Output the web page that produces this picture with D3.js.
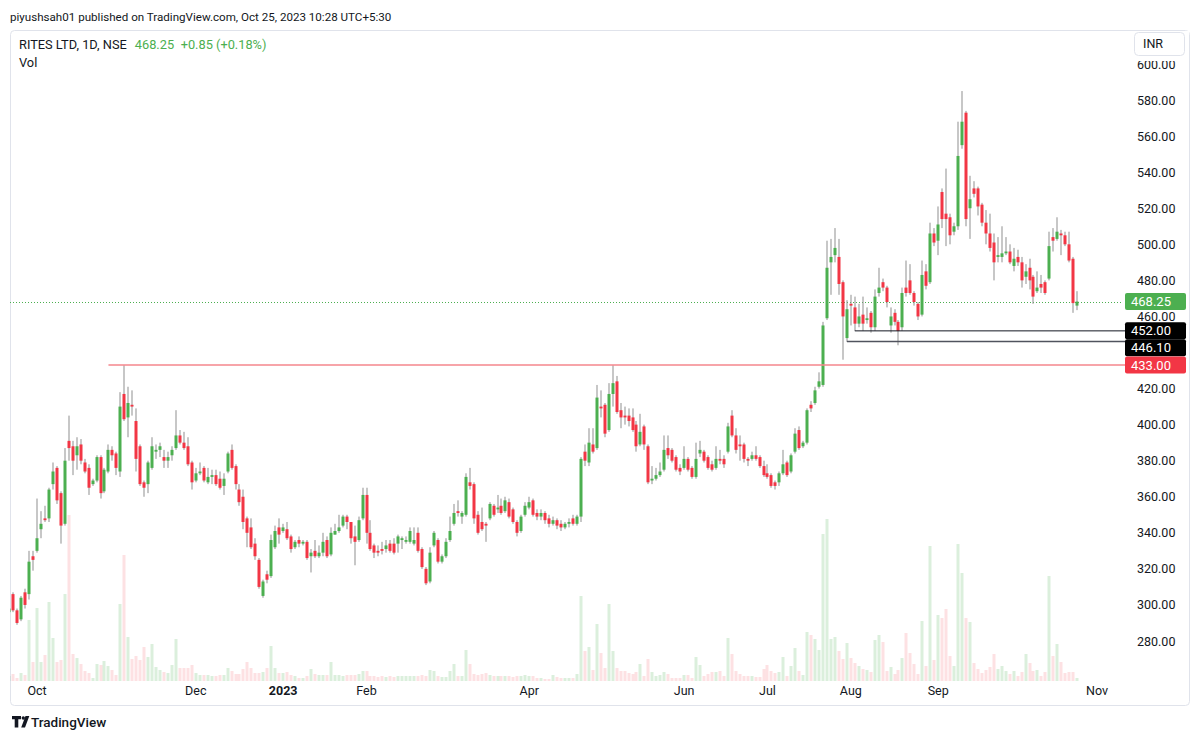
<!DOCTYPE html>
<html>
<head>
<meta charset="utf-8">
<script src="https://cdn.jsdelivr.net/npm/d3@7"></script>
<style>
  body { margin: 0; background: #fff; }
  svg { font-family: Roboto, Inter, "Noto Sans", sans-serif; }
</style>
</head>
<body>
<div id="chart"></div>
<script>
  // NSE holidays in the range (weekdays with no bar)
  const holidays = ['2022-10-05', '2022-10-26', '2022-11-08', '2023-01-26', '2023-03-07',
    '2023-03-30', '2023-04-04', '2023-04-07', '2023-04-14', '2023-05-01', '2023-06-29',
    '2023-08-15', '2023-09-19', '2023-10-02', '2023-10-24']

  // daily bars [open, high, low, close], 22 Sep 2022 .. 25 Oct 2023
  const candles = [
    [296,299,295,298],[306,307,296,297],[297,298,289,290],[292,305,291,304],[307,309,298,300],
    [306,330,303,324],[327,330,319,325],[330,359,329,337],[342,352,337,345],[348,355,346,347],
    [348,365,346,364],[367,379,364,374],[376,377,356,358],[362,363,334,344],[345,387,344,380],
    [391,405,380,387],[388,391,372,380],[383,393,375,388],[389,392,378,380],[379,381,373,374],
    [376,378,361,365],[367,370,366,369],[369,383,368,382],[382,383,359,362],[363,376,362,375],
    [374,389,373,386],[386,388,380,383],[384,385,372,376],[374,418,371,410],[417,433,402,403],
    [404,421,393,412],[411,419,405,410],[402,409,374,381],[388,389,366,367],[368,369,360,365],
    [367,380,362,379],[376,393,375,388],[385,389,381,386],[386,390,382,388],[382,386,376,380],
    [380,385,376,382],[383,388,380,386],[387,408,386,394],[394,397,389,390],[390,396,386,387],
    [388,393,377,378],[379,380,364,368],[369,376,368,373],[373,379,372,374],[376,377,368,369],
    [368,376,367,371],[371,375,367,372],[372,375,366,367],[370,374,364,365],[366,373,361,370],
    [374,385,373,384],[386,389,375,376],[377,378,364,367],[364,367,355,357],[360,364,342,346],
    [348,349,332,340],[343,348,331,332],[334,337,325,327],[325,326,309,310],[305,314,304,313],
    [317,319,312,314],[316,339,315,336],[332,344,331,341],[343,348,334,339],[341,345,340,343],
    [342,346,336,337],[338,339,329,331],[332,336,331,335],[336,338,332,334],[334,336,333,335],
    [335,336,325,326],[327,331,318,329],[330,336,326,327],[327,333,326,329],[329,340,327,335],
    [336,338,326,327],[328,343,327,340],[339,345,339,341],[341,350,340,343],[344,350,343,349],
    [349,350,342,346],[346,346,334,337],[338,344,322,335],[336,349,335,347],[348,365,347,361],
    [361,365,334,340],[340,347,330,331],[333,334,326,329],[330,333,327,329],[331,335,328,330],
    [331,336,329,333],[334,336,329,330],[334,337,328,329],[334,339,329,338],[336,338,331,337],
    [335,338,334,336],[335,343,334,341],[334,343,333,336],[340,343,329,330],[331,332,320,321],
    [320,321,311,312],[313,332,312,329],[333,341,332,340],[336,337,323,324],[324,328,323,327],
    [327,337,326,335],[336,349,335,341],[345,356,344,351],[352,358,349,351],[349,352,345,351],
    [350,373,349,371],[368,376,364,366],[367,368,345,348],[350,352,339,340],[346,354,341,342],
    [345,346,335,344],[348,357,347,356],[355,356,349,350],[353,361,351,354],[355,359,350,351],
    [352,360,351,358],[357,359,348,349],[353,354,345,346],[346,347,338,340],[341,350,340,349],
    [350,357,349,355],[354,360,353,357],[358,359,349,350],[351,353,347,349],[349,353,347,351],
    [351,352,345,347],[348,350,343,345],[345,349,344,347],[347,348,342,344],[345,347,341,343],
    [343,346,342,345],[345,348,343,346],[348,350,344,345],[345,350,344,349],[349,382,346,381],
    [385,389,377,380],[379,398,377,390],[389,398,384,385],[387,422,386,415],[410,419,404,409],
    [411,412,393,395],[397,423,396,417],[417,433,410,423],[424,427,406,407],[408,412,398,404],
    [405,410,400,404],[405,409,399,402],[404,409,396,397],[400,402,385,388],[389,406,388,396],
    [399,400,386,389],[388,389,367,368],[369,377,367,370],[370,376,369,372],[372,379,371,374],
    [375,394,374,386],[387,394,381,383],[386,387,379,380],[382,383,374,375],[376,378,372,374],
    [376,388,375,381],[381,382,374,375],[376,377,370,371],[371,390,370,381],[384,391,382,386],
    [385,386,379,380],[382,383,375,376],[378,380,374,375],[376,388,375,381],[381,386,378,380],
    [381,383,376,378],[385,401,384,399],[405,408,393,394],[394,398,384,386],[389,394,380,388],
    [389,390,379,381],[381,382,377,380],[381,385,380,383],[383,388,380,381],[382,383,376,377],
    [377,380,371,372],[373,378,370,371],[372,373,365,366],[368,369,364,366],[368,374,366,373],
    [373,386,372,378],[379,380,371,372],[374,384,373,383],[385,398,384,395],[397,399,386,387],
    [388,391,387,390],[390,409,389,408],[411,413,407,409],[412,421,411,419],[421,429,420,424],
    [422,457,421,455],[459,502,458,487],[490,503,472,493],[494,509,490,498],[493,503,472,478],
    [479,480,436,460],[448,469,446,464],[467,472,455,466],[465,471,452,456],[456,467,454,460],
    [461,471,452,456],[458,465,456,459],[462,463,451,454],[454,475,452,471],[473,487,471,476],
    [479,481,474,476],[476,477,465,468],[455,465,451,460],[462,464,455,457],[457,458,444,452],
    [454,476,452,473],[476,491,471,473],[480,489,472,473],[473,474,466,468],[467,468,458,460],
    [461,491,460,483],[485,489,475,477],[479,512,478,506],[506,509,499,501],[502,521,494,511],
    [529,531,509,514],[517,542,499,514],[515,517,500,505],[507,512,505,510],[510,568,508,549],
    [555,585,553,568],[573,574,510,514],[520,538,503,525],[531,535,526,528],[531,532,516,521],
    [522,523,510,512],[512,519,500,506],[506,517,496,498],[501,506,480,490],[493,504,490,494],
    [493,510,490,495],[495,504,494,496],[496,500,489,490],[488,498,485,492],[493,497,488,490],
    [490,493,476,480],[482,489,478,485],[487,492,475,480],[482,483,467,471],[474,485,473,476],
    [478,483,473,476],[479,480,472,473],[481,507,480,499],[504,509,496,502],[503,515,502,507],
    [506,508,494,505],[505,507,499,500],[500,507,490,491],[492,493,462,467.4],[466,474,463.5,468.25]
  ]

  // volume, lakh shares
  const volumes = [
    2.5,3.5,1.5,4,3,30.5,9.5,36.5,9.5,13,
    39.5,21.5,9.5,10.5,43.5,83,13.5,11.5,8.5,5,
    4,1.5,8.5,8,10,7.5,5.5,3,38.5,63,
    22,11,12.5,10.5,17,12,18.5,7,5.5,4.5,
    4,8,21,6.5,6.5,6.5,8,4,3,3,
    3,2.5,2.5,3,3,6.5,5,3.5,3.5,6,
    9.5,6.5,4,4,4.5,6.5,17.5,6.5,4,4,
    4.5,3,2.5,1.5,1.5,2.5,6,3.5,3,3,
    3,9.5,3,3,2.5,3,3,3,3.5,5,
    5,2.5,2.5,2,2.5,2,2.5,2,2.5,2.5,
    2.5,2.5,2.5,2.5,3,2.5,5.5,5,2.5,2,
    2,5,8.5,2.5,2.5,15.5,8.5,3.5,3,3.5,
    4,3,2.5,2.5,2.5,2.5,2.5,2,2.5,2.5,
    3,2.5,2.5,1.5,1.5,1,1,3,2,1.5,
    1.5,1.5,1.5,3.5,42.5,15,17,5.5,28.5,14,
    6.5,38.5,15,6.5,5,5,4,3.5,4.5,8.5,
    2.5,11,4.5,2.5,3,4.5,3.5,1.5,1.5,1.5,
    3,3,1.5,12,8,2.5,3.5,4.5,4.5,5,
    2.5,21.5,13.5,5,3.5,2.5,2.5,2.5,2,2,
    6,8,5,4,4.5,12,2.5,7.5,16.5,5,
    3,24.5,23,21,15.5,73.5,81,21,22,15,
    11,19,11.5,9,7.5,6,5.5,4.5,20.5,23,
    19.5,5,7,3.5,5.5,11.5,24,14,8.5,3.5,
    30,7.5,67.5,10.5,33,31.5,36,12.5,7.5,68.5,
    54,31.5,29.5,9,6,4,5.5,7,13.5,6,
    7.5,5,3.5,5,2.5,4.5,13.5,9,5,5.5,
    2.5,4.5,52.5,12.5,18.5,9.5,4,4.5,4.5,1.5
  ]

  const priceTicks = [280, 300, 320, 340, 360, 380, 400, 420, 440, 460, 480, 500, 520, 540, 560, 580, 600]
  const monthTicks = [['2022-10', 'Oct'], ['2022-12', 'Dec'], ['2023-01', '2023'], ['2023-02', 'Feb'],
    ['2023-04', 'Apr'], ['2023-06', 'Jun'], ['2023-07', 'Jul'], ['2023-08', 'Aug'],
    ['2023-09', 'Sep'], ['2023-11', 'Nov']]

  // drawn horizontal levels: price, first bar
  const levels = [
    { price: 433.00, from: '2022-10-31', color: '#f5868c', width: 1.5, label: '#f23645' },
    { price: 452.00, from: '2023-08-02', color: '#131722', width: 1,   label: '#000' },
    { price: 446.10, from: '2023-07-31', color: '#50535e', width: 1.5, label: '#000' }
  ]
  const last = { price: 468.25, change: 0.85, pct: 0.18 }

  const up = '#4caf50', down = '#f23645', text = '#131722'
  const plot = { left: 10, right: 1122, top: 30, bottom: 681 }

  let fmt  = d3.utcFormat('%Y-%m-%d'),
      days = d3.utcDay.range(new Date(Date.UTC(2022, 8, 22)), new Date(Date.UTC(2023, 10, 2)))
               .filter(d => d.getUTCDay() % 6 !== 0)
               .map(fmt)
               .filter(s => !holidays.includes(s))

  let x = d3.scaleLinear()
            .domain([days.indexOf('2022-10-03'), days.indexOf('2023-11-01')])
            .range([37, 1097]),
      y = d3.scaleLinear().domain([280, 600]).range([641, 64]),
      v = d3.scaleLinear().domain([0, d3.max(volumes)]).range([plot.bottom, plot.bottom - 166])

  let svg = d3.select('#chart').append('svg')
              .attr('width', 1200).attr('height', 741)

  svg.append('defs').append('clipPath').attr('id', 'plotclip')
    .append('rect')
      .attr('x', plot.left).attr('y', plot.top)
      .attr('width', plot.right - plot.left).attr('height', plot.bottom - plot.top)

  // frame
  svg.append('rect')
    .attr('x', 10.5).attr('y', 30.5).attr('width', 1179).attr('height', 675).attr('rx', 4)
    .attr('fill', 'none').attr('stroke', '#e0e3eb')

  let pane = svg.append('g').attr('clip-path', 'url(#plotclip)')
  let cx = i => Math.round(x(i))
  let isUp = d => d[3] >= d[0]

  // volume
  pane.append('g').selectAll('rect').data(volumes).enter()
    .append('rect')
      .attr('x', (d, i) => cx(i) - 1.5)
      .attr('width', 3)
      .attr('y', d => v(d))
      .attr('height', d => plot.bottom - v(d))
      .attr('fill', (d, i) => isUp(candles[i]) ? 'rgba(76,175,80,0.2)' : 'rgba(242,54,69,0.15)')

  // last price dotted line
  pane.append('line')
    .attr('x1', plot.left).attr('x2', plot.right)
    .attr('y1', Math.round(y(last.price)) + 0.5).attr('y2', Math.round(y(last.price)) + 0.5)
    .attr('stroke', up).attr('stroke-dasharray', '1,2')

  // candles
  let bars = pane.append('g').selectAll('g').data(candles).enter().append('g')
  bars.append('line')
    .attr('x1', (d, i) => cx(i)).attr('x2', (d, i) => cx(i))
    .attr('y1', d => y(d[1])).attr('y2', d => y(d[2]))
    .attr('stroke', '#8f8f8f').attr('stroke-width', 1)
  bars.append('rect')
    .attr('x', (d, i) => cx(i) - 1.5)
    .attr('width', 3)
    .attr('y', d => y(Math.max(d[0], d[3])))
    .attr('height', d => Math.max(1, Math.abs(y(d[0]) - y(d[3]))))
    .attr('fill', d => isUp(d) ? up : down)

  // levels
  svg.append('g').selectAll('line').data(levels).enter()
    .append('line')
      .attr('x1', d => x(days.indexOf(d.from)))
      .attr('x2', 1125)
      .attr('y1', d => y(d.price)).attr('y2', d => y(d.price))
      .attr('stroke', d => d.color).attr('stroke-width', d => d.width)

  // price labels, pushed apart where they overlap
  let tags = [{ price: last.price, fill: up }]
    .concat(levels.map(d => ({ price: d.price, fill: d.label })))
    .map(d => Object.assign(d, { cy: y(d.price) }))
    .sort((a, b) => a.cy - b.cy)
  const th = 17
  tags.forEach((d, i) => {
    if (i > 0 && d.cy - th / 2 < tags[i - 1].cy + th / 2) d.cy = tags[i - 1].cy + th })

  // price axis, ticks hidden under a label are dropped
  let visible = priceTicks.filter(t => tags.every(g => Math.abs(y(t) - g.cy) > th / 2 + 4))
  svg.append('g').selectAll('text').data(visible).enter()
    .append('text')
      .attr('x', 1137).attr('y', d => y(d) + 4.5)
      .attr('font-size', 12.5).attr('fill', text)
      .text(d => d.toFixed(2))

  // currency button covers the top of the scale
  svg.append('rect').attr('x', 1124).attr('y', 31).attr('width', 65).attr('height', 30).attr('fill', '#fff')
  svg.append('rect')
    .attr('x', 1134.5).attr('y', 32.5).attr('width', 50).attr('height', 23).attr('rx', 4)
    .attr('fill', '#fff').attr('stroke', '#e0e3eb')
  svg.append('text').attr('x', 1143).attr('y', 48).attr('font-size', 12.5).attr('fill', text).text('INR')

  let tg = svg.append('g').selectAll('g').data(tags).enter().append('g')
  tg.append('rect')
    .attr('x', 1125).attr('width', 61).attr('height', th)
    .attr('y', d => d.cy - th / 2).attr('rx', 2)
    .attr('fill', d => d.fill)
  tg.append('text')
    .attr('x', 1131).attr('y', d => d.cy + 4.5)
    .attr('font-size', 13).attr('fill', '#fff')
    .text(d => d.price.toFixed(2))

  // time axis
  svg.append('g').selectAll('text').data(monthTicks).enter()
    .append('text')
      .attr('x', d => x(days.findIndex(s => s.startsWith(d[0]))))
      .attr('y', 695)
      .attr('text-anchor', 'middle')
      .attr('font-size', 12.5)
      .attr('font-weight', d => d[1] === '2023' ? 700 : 400)
      .attr('fill', text)
      .text(d => d[1])

  // headings
  svg.append('text').attr('x', 10).attr('y', 21).attr('font-size', 11.6).attr('fill', text)
    .text('piyushsah01 published on TradingView.com, Oct 25, 2023 10:28 UTC+5:30')
  let legend = svg.append('text').attr('x', 19).attr('y', 49).attr('font-size', 12.8).attr('fill', text)
  legend.append('tspan').text('RITES LTD, 1D, NSE')
  legend.append('tspan').attr('dx', 8).attr('fill', up)
    .text(last.price.toFixed(2) + '\u2002+' + last.change.toFixed(2) + ' (+' + last.pct.toFixed(2) + '%)')
  svg.append('text').attr('x', 19).attr('y', 67).attr('font-size', 12.8).attr('fill', text).text('Vol')

  // footer logo
  let logo = svg.append('g').attr('fill', text)
  logo.append('path').attr('d', 'M12 716h9v3.2h-2.7v8.3h-3.6v-8.3H12z')
  logo.append('circle').attr('cx', 23.3).attr('cy', 718).attr('r', 1.7)
  logo.append('path').attr('d', 'M25.5 716h3.8l-4.3 11.5h-3.8z')
  svg.append('text').attr('x', 31).attr('y', 727).attr('font-size', 13.5).attr('fill', text)
    .attr('font-weight', 500).text('TradingView')
</script>
</body>
</html>
